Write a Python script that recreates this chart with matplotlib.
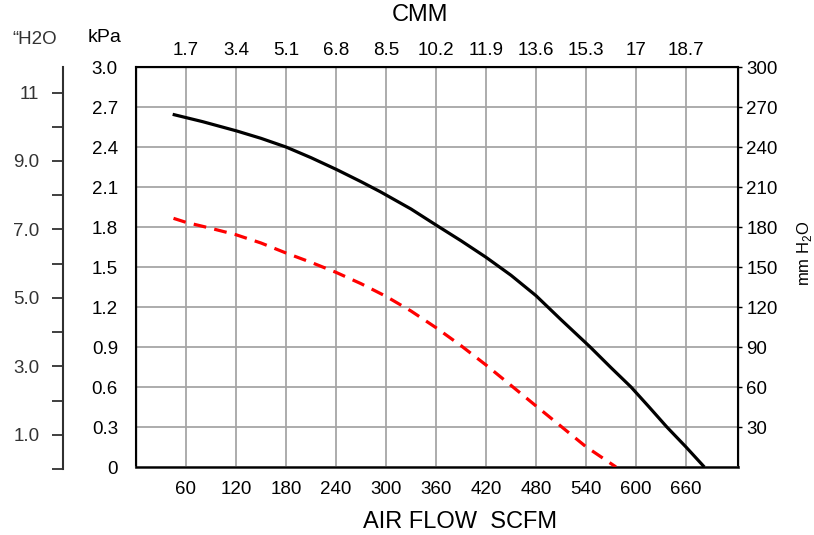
import numpy as np
import matplotlib.pyplot as plt
from matplotlib.ticker import FixedLocator

plt.rcParams['font.family'] = ['Liberation Sans', 'DejaVu Sans']
plt.rcParams['mathtext.fontset'] = 'custom'
plt.rcParams['mathtext.rm'] = 'Liberation Sans'

# air flow (SCFM) vs static pressure (kPa)
black_x = [44, 80, 121, 150, 180, 210, 241, 270, 293, 330, 360, 390, 420, 450, 480, 510, 545, 570, 594, 615, 637, 660, 682]
black_y = [2.645, 2.59, 2.52, 2.465, 2.40, 2.32, 2.23, 2.14, 2.065, 1.935, 1.815, 1.697, 1.573, 1.438, 1.285, 1.105, 0.90, 0.745, 0.60, 0.455, 0.30, 0.15, 0.0]
red_x = [45, 60, 90, 120, 150, 180, 210, 240, 270, 300, 330, 360, 390, 420, 450, 480, 510, 540, 576]
red_y = [1.865, 1.835, 1.79, 1.742, 1.68, 1.605, 1.535, 1.46, 1.375, 1.28, 1.17, 1.045, 0.91, 0.765, 0.612, 0.458, 0.305, 0.152, 0.0]

scfm_ticks = [60, 120, 180, 240, 300, 360, 420, 480, 540, 600, 660]
cmm_labels = ['1.7', '3.4', '5.1', '6.8', '8.5', '10.2', '11.9', '13.6', '15.3', '17', '18.7']
kpa_ticks = [0, 0.3, 0.6, 0.9, 1.2, 1.5, 1.8, 2.1, 2.4, 2.7, 3.0]
kpa_labels = ['0', '0.3', '0.6', '0.9', '1.2', '1.5', '1.8', '2.1', '2.4', '2.7', '3.0']
mm_ticks = [30, 60, 90, 120, 150, 180, 210, 240, 270, 300]
inch_ticks = list(range(12))
inch_labels = ['', '1.0', '', '3.0', '', '5.0', '', '7.0', '', '9.0', '', '11']

W, H = 814, 535
fs = 13.5
fig = plt.figure(figsize=(W / 100, H / 100), dpi=100)

ax = fig.add_axes([136 / W, 1 - 467 / H, (738 - 136) / W, (467 - 67) / H])
ax.set_xlim(0, 722.4)
ax.set_ylim(0, 3.0)
ax.plot(black_x, black_y, color='black', lw=2.3, solid_capstyle='butt', zorder=3)
ax.plot(red_x, red_y, color='#ff0000', lw=2.3, dashes=(4.0, 2.6), zorder=3)

ax.set_xticks(scfm_ticks)
ax.set_yticks(kpa_ticks)
ax.set_yticklabels(kpa_labels)
ax.grid(True, color='#a6a6a6', lw=1.3)
ax.tick_params(axis='x', length=0, pad=10, labelsize=fs)
ax.tick_params(axis='y', length=0, pad=13, labelsize=fs)
for s in ax.spines.values():
    s.set_linewidth(1.5)
    s.set_color('black')
ax.spines['bottom'].set_color('#404040')
ax.spines['bottom'].set_linewidth(2)

top = ax.twiny()
top.set_xlim(ax.get_xlim())
top.set_xticks(scfm_ticks)
top.set_xticklabels(cmm_labels)
top.tick_params(axis='x', length=0, pad=6, labelsize=fs)

right = ax.twinx()
right.set_ylim(0, 300)
right.set_yticks(mm_ticks)
right.tick_params(axis='y', length=3, width=1, pad=3, labelsize=fs)

# inches of water scale on the far left
inch = fig.add_axes([63 / W, 1 - 469 / H, 0.0001, (469 - 67) / H])
inch.set_ylim(0, 3.0 / 0.2565 + 0.05)
for k in ['top', 'right', 'bottom']:
    inch.spines[k].set_visible(False)
inch.spines['left'].set_linewidth(1.5)
inch.spines['left'].set_color('#303030')
inch.set_xticks([])
inch.yaxis.set_major_locator(FixedLocator(inch_ticks))
inch.set_yticklabels(inch_labels)
inch.tick_params(axis='y', length=8, width=1.3, color='#303030', pad=9,
                 labelsize=fs, labelcolor='#333333')

fig.text(35 / W, 1 - 40 / H, '\u201cH2O', ha='center', va='center', fontsize=fs, color='#333333')
fig.text(105 / W, 1 - 38 / H, 'kPa', ha='center', va='center', fontsize=14)
fig.text(420 / W, 1 - 15 / H, 'CMM', ha='center', va='center', fontsize=17)
fig.text(460 / W, 1 - 522 / H, 'AIR FLOW  SCFM', ha='center', va='center', fontsize=17)
fig.text(805 / W, 1 - 253 / H, r'mm H$_{2}$O', ha='center', va='center', rotation=90, fontsize=12)

fig.savefig('out.png', dpi=100)
